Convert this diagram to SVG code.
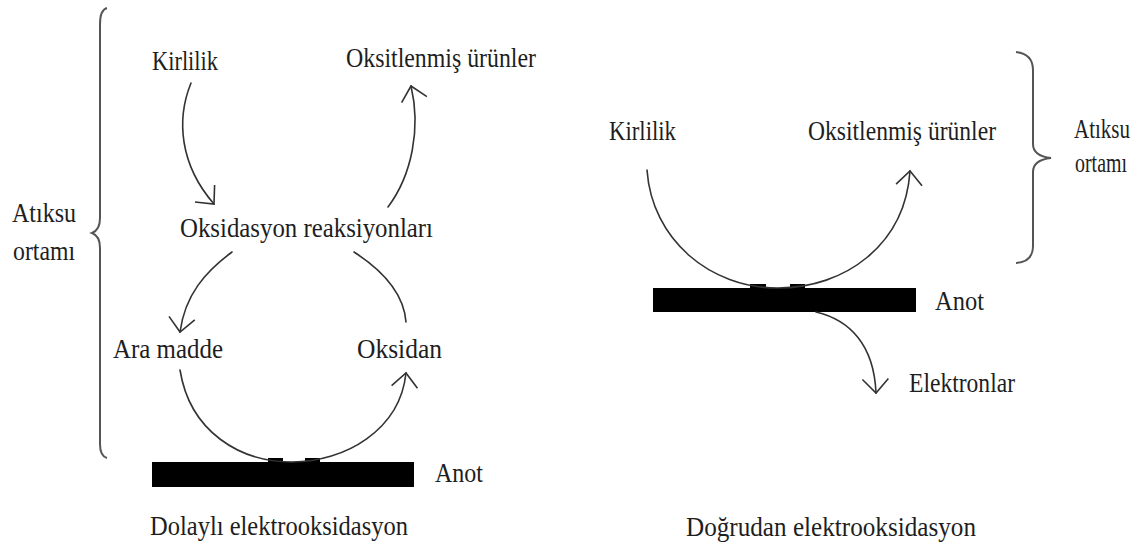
<svg xmlns="http://www.w3.org/2000/svg" width="1147" height="550" viewBox="0 0 1147 550">
<style>
text{font-family:"Liberation Serif","Times New Roman",serif;font-size:28px;fill:#1e1e1e}
.ln{fill:none;stroke:#333;stroke-width:1.6;stroke-linecap:round}
.br{fill:none;stroke:#555;stroke-width:2}
.bar{fill:#000}
</style>
<defs>
<marker id="ah" viewBox="-20 -20 40 40" refX="0" refY="0" markerWidth="40" markerHeight="40" markerUnits="userSpaceOnUse" orient="auto">
<path d="M-14,-13 L0,0 L-14,13" fill="none" stroke="#333" stroke-width="1.6"/>
</marker>
</defs>
<rect width="1147" height="550" fill="#fff"/>
<g id="left-diagram">
<g id="brace-left"><path class="br" d="M107,8 Q100,10 100,24 L100,218 Q100,230 92,233 Q100,236 100,248 L100,444 Q100,456 107,458"/></g>
<g id="atiksu-left"><text x="12" y="222" textLength="64" lengthAdjust="spacingAndGlyphs">Atıksu</text><text x="13" y="260" textLength="62" lengthAdjust="spacingAndGlyphs">ortamı</text></g>
<g id="kirlilik-left"><text x="152" y="70" textLength="66" lengthAdjust="spacingAndGlyphs">Kirlilik</text></g>
<g id="oksitlenmis-left"><text x="346" y="67" textLength="190" lengthAdjust="spacingAndGlyphs">Oksitlenmiş ürünler</text></g>
<g id="oksidasyon"><text x="180" y="237" textLength="253" lengthAdjust="spacingAndGlyphs">Oksidasyon reaksiyonları</text></g>
<g id="ara-madde"><text x="113" y="358" textLength="110" lengthAdjust="spacingAndGlyphs">Ara madde</text></g>
<g id="oksidan"><text x="357" y="358" textLength="85" lengthAdjust="spacingAndGlyphs">Oksidan</text></g>
<g id="anot-left"><rect class="bar" x="152" y="462" width="262" height="25"/><rect class="bar" x="268" y="458" width="15" height="5"/><rect class="bar" x="305" y="458" width="15" height="5"/><text x="435" y="482" textLength="48" lengthAdjust="spacingAndGlyphs">Anot</text></g>
<g id="title-left"><text x="150" y="535" textLength="258" lengthAdjust="spacingAndGlyphs">Dolaylı elektrooksidasyon</text></g>
</g>
<g id="right-diagram">
<g id="kirlilik-right"><text x="609" y="140" textLength="67" lengthAdjust="spacingAndGlyphs">Kirlilik</text></g>
<g id="oksitlenmis-right"><text x="808" y="140" textLength="188" lengthAdjust="spacingAndGlyphs">Oksitlenmiş ürünler</text></g>
<g id="brace-right"><path class="br" d="M1016,52 Q1033,54 1033,70 L1033,144 Q1033,156 1051,158 Q1033,160 1033,172 L1033,246 Q1033,262 1016,263"/></g>
<g id="atiksu-right"><text x="1074" y="138" textLength="56" lengthAdjust="spacingAndGlyphs">Atıksu</text><text x="1075" y="172" textLength="52" lengthAdjust="spacingAndGlyphs">ortamı</text></g>
<g id="anot-right"><rect class="bar" x="653" y="288" width="263" height="24"/><rect class="bar" x="750" y="284" width="16" height="5"/><rect class="bar" x="790" y="284" width="15" height="5"/><text x="935" y="310" textLength="49" lengthAdjust="spacingAndGlyphs">Anot</text></g>
<g id="elektronlar"><text x="909" y="392" textLength="106" lengthAdjust="spacingAndGlyphs">Elektronlar</text></g>
<g id="title-right"><text x="686" y="536" textLength="290" lengthAdjust="spacingAndGlyphs">Doğrudan elektrooksidasyon</text></g>
</g>
<g id="connectors">
<path class="ln" d="M191,83 C176,120 180,165 214,204" marker-end="url(#ah)"/>
<path class="ln" d="M388,207 C412,175 421,128 411,86" marker-end="url(#ah)"/>
<path class="ln" d="M232,252 C205,272 185,295 180,332" marker-end="url(#ah)"/>
<path class="ln" d="M354,252 C385,272 404,295 406,322"/>
<path class="ln" d="M180,370 C190,432 240,462 292,462 C345,462 400,430 406,373" marker-end="url(#ah)"/>
<path class="ln" d="M647,170 C652,240 710,288 778,288 C845,288 905,245 910,171" marker-end="url(#ah)"/>
<path class="ln" d="M816,312 C850,320 874,345 876,393" marker-end="url(#ah)"/>
</g>
</svg>
